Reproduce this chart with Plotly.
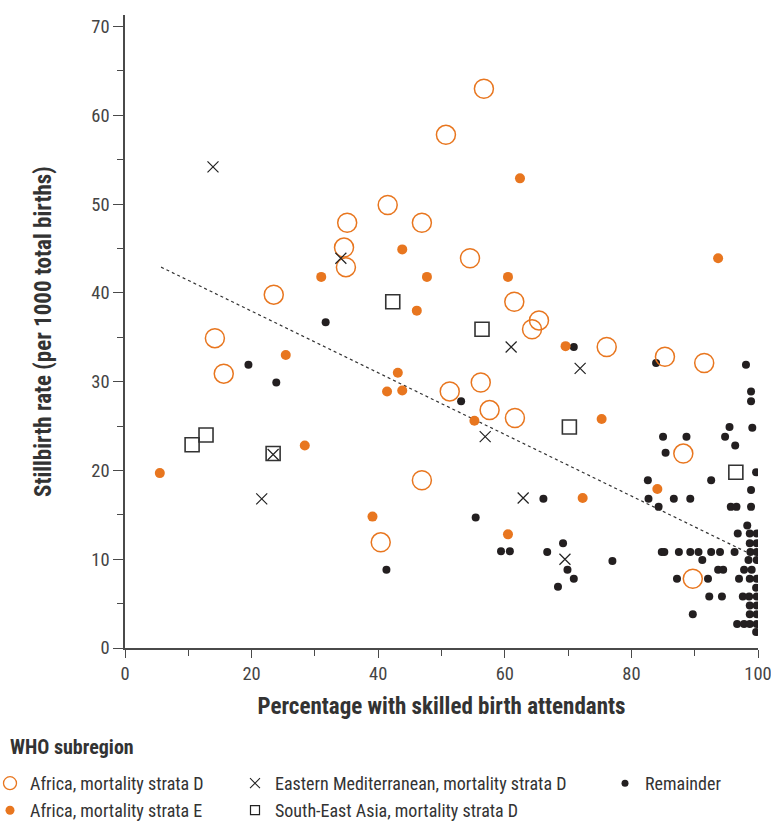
import plotly.graph_objects as go

# ---- data ----
afr_d_x = [56.7, 50.7, 41.5, 35.1, 46.9, 34.6, 54.5, 34.9, 23.5, 61.5, 65.4, 64.3, 14.2,
           76.1, 85.3, 91.5, 15.6, 51.3, 56.2, 57.6, 61.6, 88.2, 46.9, 40.4, 89.7]
afr_d_y = [63.0, 57.8, 49.9, 47.9, 47.9, 45.1, 43.9, 42.9, 39.8, 39.0, 36.9, 35.9, 34.9,
           33.9, 32.8, 32.1, 30.9, 28.9, 29.9, 26.8, 25.9, 21.9, 18.9, 11.9, 7.8]

afr_e_x = [62.4, 93.7, 43.8, 31.0, 47.7, 60.5, 46.1, 25.4, 69.6, 43.1, 41.4, 43.8, 55.2,
           75.3, 28.4, 5.5, 84.1, 72.3, 39.1, 60.5]
afr_e_y = [52.9, 43.9, 44.9, 41.8, 41.8, 41.8, 38.0, 33.0, 34.0, 31.0, 28.9, 29.0, 25.6,
           25.8, 22.8, 19.7, 17.9, 16.9, 14.8, 12.8]

em_x = [13.9, 34.1, 61.0, 71.9, 56.9, 23.4, 21.6, 62.9, 69.5]
em_y = [54.2, 43.9, 33.9, 31.5, 23.8, 21.8, 16.8, 16.9, 10.0]

sea_x = [42.3, 56.4, 70.2, 96.5, 10.6, 12.8, 23.4]
sea_y = [39.0, 35.9, 24.9, 19.8, 22.9, 24.0, 21.9]

rem_x = [31.7, 19.5, 23.9, 41.3, 70.9, 53.1, 83.9, 98.1, 98.9, 98.9, 95.5, 99.1, 94.8, 96.4, 85.0, 88.7,
         66.1, 55.4, 59.4, 60.8, 66.7, 69.2, 69.9, 70.9, 68.4, 77.0,
         85.4, 82.6, 92.6, 99.7, 98.9, 82.7, 86.7, 89.3, 84.3, 95.7, 96.6, 98.9,
         98.3, 96.8, 98.7, 99.8, 98.7, 99.8,
         84.8, 85.2, 87.5, 89.3, 90.6, 92.6, 94.0, 96.3, 98.8, 99.8,
         91.2, 98.5, 99.8,
         93.7, 94.5, 97.8, 99.0,
         87.2, 92.1, 97.0, 98.7, 99.8,
         99.7,
         92.3, 94.3, 97.6, 98.6, 99.8,
         98.7, 99.8,
         89.7, 98.7, 99.8,
         96.7, 97.8, 98.7, 99.8,
         99.7]
rem_y = [36.7, 31.9, 29.9, 8.8, 33.9, 27.8, 32.1, 31.9, 28.9, 27.8, 24.9, 24.8, 23.8, 22.8, 23.8, 23.8,
         16.8, 14.7, 10.9, 10.9, 10.8, 11.8, 8.8, 7.8, 6.9, 9.8,
         22.0, 18.9, 18.9, 19.8, 17.8, 16.8, 16.8, 16.8, 15.9, 15.9, 15.9, 15.9,
         13.8, 12.9, 12.9, 12.9, 11.8, 11.8,
         10.8, 10.8, 10.8, 10.8, 10.8, 10.8, 10.8, 10.8, 10.8, 10.8,
         9.9, 9.9, 9.9,
         8.8, 8.8, 8.8, 8.8,
         7.8, 7.8, 7.8, 7.8, 7.8,
         6.8,
         5.8, 5.8, 5.8, 5.8, 5.8,
         4.8, 4.8,
         3.8, 3.8, 3.8,
         2.7, 2.7, 2.7, 2.7,
         1.8]

trend_x = [5.7, 98.2]
trend_y = [42.9, 10.8]

x_ticks = [0, 20, 40, 60, 80, 100]
y_ticks = [0, 10, 20, 30, 40, 50, 60, 70]

ORANGE = "#E8761F"
BLACK = "#231F20"
AXIS = "#4a4a4a"
TEXT = "#333333"
FONT = "Liberation Sans Narrow, Arial Narrow, Roboto Condensed, Roboto, sans-serif"

fig = go.Figure()

# trend line
fig.add_trace(go.Scatter(x=trend_x, y=trend_y, mode="lines",
                         line=dict(color="#333333", width=1.2, dash="dot"),
                         showlegend=False, hoverinfo="skip"))

# data traces
fig.add_trace(go.Scatter(x=rem_x, y=rem_y, mode="markers", showlegend=False,
                         marker=dict(symbol="circle", size=8, color=BLACK)))
fig.add_trace(go.Scatter(x=afr_e_x, y=afr_e_y, mode="markers", showlegend=False,
                         marker=dict(symbol="circle", size=10, color=ORANGE)))
fig.add_trace(go.Scatter(x=afr_d_x, y=afr_d_y, mode="markers", showlegend=False,
                         marker=dict(symbol="circle-open", size=19, color=ORANGE,
                                     line=dict(width=1.5, color=ORANGE))))
fig.add_trace(go.Scatter(x=sea_x, y=sea_y, mode="markers", showlegend=False,
                         marker=dict(symbol="square-open", size=14, color="#333333",
                                     line=dict(width=1.6, color="#333333"))))
fig.add_trace(go.Scatter(x=em_x, y=em_y, mode="markers", showlegend=False,
                         marker=dict(symbol="x-thin", size=11, color="#222222",
                                     line=dict(width=1.2, color="#222222"))))

# legend entries (symbol samples only)
def leg(name, legend, marker):
    fig.add_trace(go.Scatter(x=[None], y=[None], mode="markers", name=name,
                             legend=legend, marker=marker, showlegend=True))

leg("Africa, mortality strata D", "legend",
    dict(symbol="circle-open", size=13, color=ORANGE, line=dict(width=1.3, color=ORANGE)))
leg("Africa, mortality strata E", "legend2",
    dict(symbol="circle", size=9, color=ORANGE))
leg("Eastern Mediterranean, mortality strata D", "legend3",
    dict(symbol="x-thin", size=10, color="#222222", line=dict(width=1.1, color="#222222")))
leg("South-East Asia, mortality strata D", "legend4",
    dict(symbol="square-open", size=9, color="#222222", line=dict(width=1.2, color="#222222")))
leg("Remainder", "legend5",
    dict(symbol="circle", size=7, color=BLACK))

# plot area in pixels: left 125, width 633, top 15, bottom 648 (height 633)
L, W, B, H = 125, 633, 648, 633
def px_x(p):
    return (p - L) / W
def px_y(p):
    return (B - p) / H

leg_common = dict(orientation="v", yanchor="top", xanchor="left",
                  font=dict(family=FONT, size=18, color=TEXT),
                  bgcolor="rgba(0,0,0,0)")
ROW1 = px_y(765)
ROW2 = px_y(792)
COL1 = px_x(-10)
COL2 = px_x(235)
COL3 = px_x(605)

fig.update_layout(
    width=771, height=825,
    margin=dict(l=125, r=13, t=15, b=177, autoexpand=False),
    paper_bgcolor="white", plot_bgcolor="white",
    font=dict(family=FONT, color=TEXT),
    legend=dict(x=COL1, y=ROW1, **leg_common),
    legend2=dict(x=COL1, y=ROW2, **leg_common),
    legend3=dict(x=COL2, y=ROW1, **leg_common),
    legend4=dict(x=COL2, y=ROW2, **leg_common),
    legend5=dict(x=COL3, y=ROW1, **leg_common),
    xaxis=dict(range=[0, 100], tickvals=x_ticks, ticks="outside", ticklen=8,
               tickcolor=AXIS, tickwidth=1.3, showline=True, linecolor=AXIS, linewidth=1.5,
               showgrid=False, zeroline=False, automargin=False, ticklabeloverflow="allow",
               minor=dict(dtick=10, ticks="outside", ticklen=6, tickcolor=AXIS, tickwidth=1.3),
               tickfont=dict(family=FONT, size=18.5, color="#444444"),
               title=dict(text="<b>Percentage with skilled birth attendants</b>",
                          font=dict(family=FONT, size=23, color=TEXT), standoff=14)),
    yaxis=dict(range=[0, 71.3], tickvals=y_ticks, ticks="outside", ticklen=10,
               tickcolor=AXIS, tickwidth=1.3, showline=True, linecolor=AXIS, linewidth=1.5,
               showgrid=False, zeroline=False, automargin=False, ticklabeloverflow="allow",
               minor=dict(dtick=5, ticks="outside", ticklen=6, tickcolor=AXIS, tickwidth=1.3),
               tickfont=dict(family=FONT, size=18.5, color="#444444")),
    annotations=[
        dict(text="<b>WHO subregion</b>", xref="paper", yref="paper",
             x=px_x(8), y=px_y(747), xanchor="left", yanchor="middle", showarrow=False,
             font=dict(family=FONT, size=20, color=TEXT)),
        dict(text="<b>Stillbirth rate (per 1000 total births)</b>", xref="paper", yref="paper",
             x=px_x(43), y=px_y(332), xanchor="center", yanchor="middle", textangle=-90,
             showarrow=False, font=dict(family=FONT, size=23, color=TEXT)),
    ],
)

fig.write_html("out.html")
